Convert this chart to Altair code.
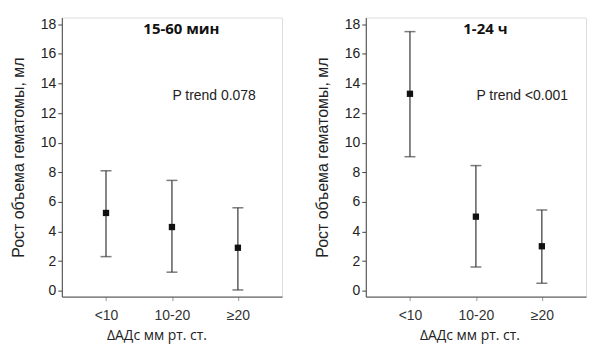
import altair as alt
import pandas as pd

categories = ["<10", "10-20", "≥20"]

early_mean = [5.25, 4.3, 2.9]
early_low = [2.3, 1.25, 0.05]
early_high = [8.1, 7.45, 5.6]

late_mean = [13.3, 5.0, 3.0]
late_low = [9.05, 1.6, 0.5]
late_high = [17.5, 8.45, 5.45]

panel_titles = ["15-60 мин", "1-24 ч"]
p_trends = ["P trend 0.078", "P trend <0.001"]
y_title = "Рост объема гематомы, мл"
x_title = "ΔАДс мм рт. ст."
y_ticks = [0, 2, 4, 6, 8, 10, 12, 14, 16, 18]

LINE = "#444444"
W, H = 221, 280


def panel(mean, low, high, title, ptrend, title_x):
    df = pd.DataFrame({"cat": categories, "mean": mean, "low": low, "high": high})
    x = alt.X(
        "cat:N",
        sort=categories,
        scale=alt.Scale(type="point", padding=0.67),
        axis=alt.Axis(
            title=x_title,
            labelAngle=0,
            tickSize=4,
            tickColor="#999999",
            domainColor=LINE,
            labelColor="#333333",
            labelFont="Liberation Sans",
            labelFontSize=14,
            labelPadding=8,
            titleFont="Open Sans",
            titleFontSize=14,
            titleFontWeight="normal",
            titleColor="#222222",
            titlePadding=6,
            titleX=title_x,
        ),
    )
    yscale = alt.Scale(domain=[-0.4, 18.45], nice=False, zero=False)
    yaxis = alt.Axis(
        title=y_title,
        values=y_ticks,
        grid=False,
        labelOverlap=False,
        tickSize=4,
        tickColor=LINE,
        domainColor=LINE,
        labelColor="#222222",
        labelFont="Liberation Sans",
        labelFontSize=14,
        labelPadding=2,
        titleFont="Liberation Sans",
        titleFontSize=16,
        titleFontWeight="normal",
        titleColor="#222222",
        titlePadding=14,
    )
    base = alt.Chart(df)
    rule = base.mark_rule(color=LINE, strokeWidth=1.3).encode(
        x=x, y=alt.Y("low:Q", scale=yscale, axis=yaxis), y2="high:Q"
    )
    cap_lo = base.mark_tick(color=LINE, size=11, thickness=1.5, orient="horizontal").encode(
        x=x, y=alt.Y("low:Q", scale=yscale, axis=yaxis)
    )
    cap_hi = base.mark_tick(color=LINE, size=11, thickness=1.5, orient="horizontal").encode(
        x=x, y=alt.Y("high:Q", scale=yscale, axis=yaxis)
    )
    pts = base.mark_square(color="#111111", size=40, opacity=1, filled=True).encode(
        x=x, y=alt.Y("mean:Q", scale=yscale, axis=yaxis)
    )
    ttl = alt.Chart(pd.DataFrame({"t": [title]})).mark_text(
        font="Open Sans", fontSize=15, fontWeight="bold", color="#111111", align="center", baseline="middle"
    ).encode(text="t:N", x=alt.value(120), y=alt.value(12))
    pt = alt.Chart(pd.DataFrame({"t": [ptrend]})).mark_text(
        font="Liberation Sans", fontSize=14, color="#222222", align="left", baseline="middle"
    ).encode(text="t:N", x=alt.value(111), y=alt.value(79))
    return alt.layer(rule, cap_lo, cap_hi, pts, ttl, pt).properties(width=W, height=H)


left = panel(early_mean, early_low, early_high, panel_titles[0], p_trends[0], 95)
right = panel(late_mean, late_low, late_high, panel_titles[1], p_trends[1], 104)

chart = (
    alt.hconcat(left, right, spacing=30)
    .properties(padding={"left": 1, "top": 8, "right": 5, "bottom": 5})
    .configure_view(stroke=None)
    .configure(background="white")
)

chart.save("out.html", embed_options={"renderer": "svg", "actions": False})
